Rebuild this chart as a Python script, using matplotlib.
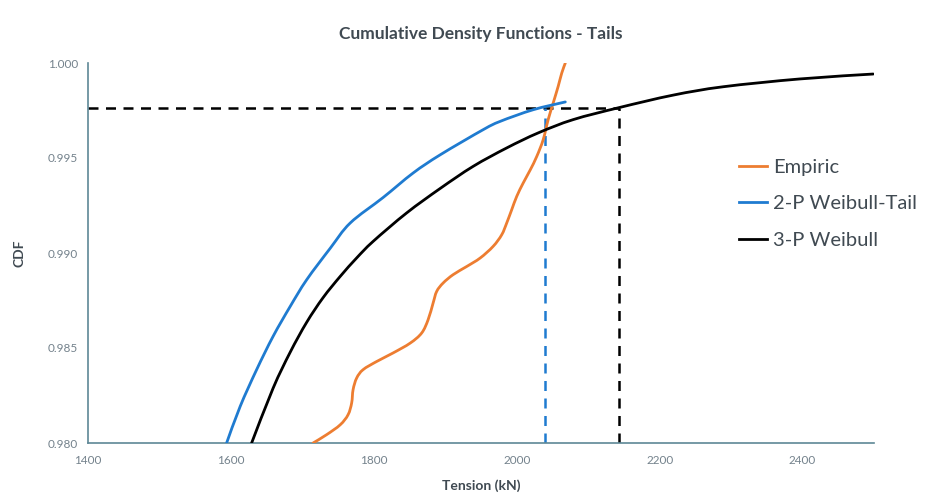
import matplotlib
matplotlib.use("Agg")
import matplotlib.pyplot as plt
from matplotlib.path import Path
from matplotlib.patches import PathPatch
from matplotlib.lines import Line2D

plt.rcParams['font.family'] = ['Lato', 'DejaVu Sans']

# Empirical CDF of tension in the upper tail
empiric_x = [1715, 1734, 1753, 1764, 1769, 1771, 1776, 1785, 1804, 1827, 1851, 1867,
             1876, 1883, 1888, 1897, 1911, 1930, 1949, 1967, 1979, 1986, 1993, 2000,
             2009, 2019, 2028, 2037, 2044, 2051, 2058, 2063, 2068]
empiric_y = [0.98000, 0.98044, 0.98096, 0.98149, 0.98211, 0.98281, 0.98342, 0.98386,
             0.98429, 0.98474, 0.98526, 0.98579, 0.98649, 0.98737, 0.98798, 0.98842,
             0.98886, 0.98929, 0.98974, 0.99035, 0.99096, 0.99158, 0.99228, 0.99298,
             0.99368, 0.99438, 0.99508, 0.99596, 0.99702, 0.99789, 0.99877, 0.99947,
             1.00000]

# Two-parameter Weibull fitted to the tail
weib2_x = [1594, 1613, 1636, 1659, 1683, 1706, 1739, 1767, 1813, 1855, 1893, 1953,
           1977, 2023, 2068]
weib2_y = [0.98000, 0.98193, 0.98386, 0.98561, 0.98719, 0.98859, 0.99025, 0.99158,
           0.99292, 0.99421, 0.99517, 0.99649, 0.99693, 0.99754, 0.99795]

# Three-parameter Weibull
weib3_x = [1629, 1659, 1683, 1706, 1729, 1753, 1776, 1799, 1846, 1893, 1939, 1986,
           2030, 2079, 2143, 2219, 2289, 2396, 2499]
weib3_y = [0.98000, 0.98288, 0.98478, 0.98635, 0.98765, 0.98877, 0.98974, 0.99061,
           0.99211, 0.99340, 0.99456, 0.99553, 0.99632, 0.99702, 0.99765, 0.99831,
           0.99875, 0.99916, 0.99942]

# Design level and the tension each fitted model gives at that level
target_cdf = 0.99765
tension_2p = 2040
tension_3p = 2143

x_ticks = [1400, 1600, 1800, 2000, 2200, 2400]
y_ticks = [0.980, 0.985, 0.990, 0.995, 1.000]

series_names = ['Empiric', '2-P Weibull-Tail', '3-P Weibull']
series_colors = ['#ED7D31', '#1F7BD0', 'black']

fig = plt.figure(figsize=(9.27, 4.96), dpi=100)
ax = fig.add_axes([88 / 927, 1 - 443 / 496, (874 - 88) / 927, (443 - 63) / 496])
ax.set_xlim(1400, 2500)
ax.set_ylim(0.980, 1.000)


def smooth_line(ax, xs, ys, color, lw, tension=1 / 6):
    """Draw a curve through the points with Catmull-Rom style Bezier smoothing,
    done in display space so the curvature is even on both axes."""
    pts = ax.transData.transform(list(zip(xs, ys)))
    n = len(pts)
    verts = [pts[0]]
    codes = [Path.MOVETO]
    for i in range(n - 1):
        p0 = pts[i - 1] if i > 0 else pts[i]
        p1 = pts[i]
        p2 = pts[i + 1]
        p3 = pts[i + 2] if i + 2 < n else pts[i + 1]
        c1 = p1 + (p2 - p0) * tension
        c2 = p2 - (p3 - p1) * tension
        verts += [c1, c2, p2]
        codes += [Path.CURVE4] * 3
    path = Path(verts, codes)
    patch = PathPatch(path, facecolor='none', edgecolor=color, lw=lw,
                      transform=None, zorder=3, capstyle='round', joinstyle='round')
    ax.add_artist(patch)


for xs, ys, c in zip([empiric_x, weib2_x, weib3_x], [empiric_y, weib2_y, weib3_y],
                     series_colors):
    smooth_line(ax, xs, ys, c, 2.0)

ax.plot([1400, tension_3p], [target_cdf, target_cdf], color='black', lw=1.8,
        ls=(0, (4, 3)), zorder=2)
ax.plot([tension_2p, tension_2p], [0.980, target_cdf], color=series_colors[1], lw=1.8,
        ls=(0, (4, 3)), zorder=2)
ax.plot([tension_3p, tension_3p], [0.980, target_cdf], color='black', lw=1.8,
        ls=(0, (4, 3)), zorder=2)

ax.set_xticks(x_ticks)
ax.set_yticks(y_ticks)
ax.set_yticklabels([f'{v:.3f}' for v in y_ticks])
ax.tick_params(length=0, labelsize=8.5, colors='#74828C')
ax.tick_params(axis='y', pad=7)
ax.tick_params(axis='x', pad=9)

for side in ('top', 'right'):
    ax.spines[side].set_visible(False)
for side in ('left', 'bottom'):
    ax.spines[side].set_color('#5E8796')
    ax.spines[side].set_linewidth(1.2)

ax.set_title('Cumulative Density Functions - Tails', fontsize=12.5, fontweight='bold',
             color='#404A52', pad=17)
ax.set_xlabel('Tension (kN)', fontsize=10, fontweight='bold', color='#404A52')
ax.xaxis.set_label_coords(0.5, (443 - 479) / 380)
ax.set_ylabel('CDF', fontsize=10, fontweight='bold', color='#404A52', labelpad=16)

handles = [Line2D([], [], color=c, lw=2.0) for c in series_colors]
leg = ax.legend(handles, series_names, loc='upper left',
                bbox_to_anchor=(721 / 927, 1 - 141 / 496),
                bbox_transform=fig.transFigure, frameon=False, fontsize=14.5,
                handlelength=1.4, handletextpad=0.3, labelspacing=0.95)
for t in leg.get_texts():
    t.set_color('#404A52')

fig.savefig('out.png', dpi=100)
